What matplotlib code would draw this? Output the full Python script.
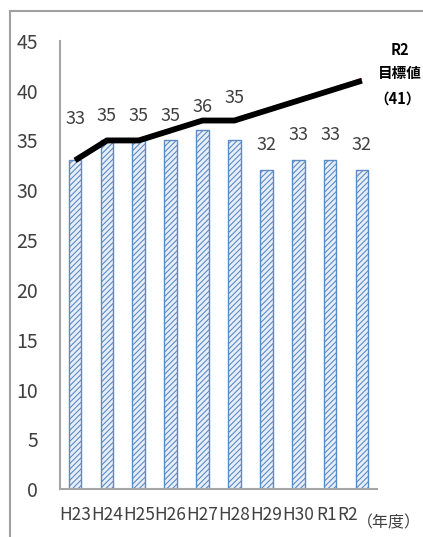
import matplotlib
matplotlib.use("Agg")
import matplotlib.pyplot as plt
import matplotlib.transforms as mtransforms
from matplotlib.patches import Rectangle

plt.rcParams['font.family'] = ['Noto Sans CJK JP', 'DejaVu Sans']
plt.rcParams['hatch.color'] = '#6f95c8'
plt.rcParams['hatch.linewidth'] = 0.8

# data
years = ["H23", "H24", "H25", "H26", "H27", "H28", "H29", "H30", "R1", "R2"]
actual = [33, 35, 35, 35, 36, 35, 32, 33, 33, 32]
target = [33, 35, 35, 36, 37, 37, 38, 39, 40, 41]

# how far above each bar its number sits (data units)
label_lift = [4.2, 2.5, 2.5, 2.5, 2.4, 4.3, 2.5, 2.5, 2.5, 2.5]

fig = plt.figure(figsize=(4.23, 5.37), dpi=100)
ax = fig.add_axes([0.142, 0.089, 0.749, 0.835])

xs = list(range(len(years)))
ax.bar(xs, actual, width=0.4, facecolor='#e8eff8', edgecolor='#5b8bc6',
       linewidth=1.0, hatch='//////', zorder=2)

for x, v, d in zip(xs, actual, label_lift):
    ax.text(x, v + d, str(v), ha='center', va='center', fontsize=13,
            color='#404040', zorder=4)

# target line: thin red edge under a thick black line
red_off = mtransforms.offset_copy(ax.transData, fig=fig, x=0, y=1.8, units='dots')
ax.plot(xs, target, color='#e03020', lw=1.0, transform=red_off, zorder=3,
        solid_capstyle='butt')
ax.plot(xs, target, color='black', lw=4.2, zorder=3, solid_capstyle='butt',
        solid_joinstyle='miter')

ax.set_xlim(-0.47, 9.47)
ax.set_ylim(0, 45)
ax.set_yticks(range(0, 46, 5))
ax.set_xticks(xs)
ax.set_xticklabels(years)
ax.tick_params(axis='both', length=0, labelcolor='#404040')
ax.tick_params(axis='y', labelsize=14, pad=16)
ax.tick_params(axis='x', labelsize=12.5, pad=12)

# nudge the last two tick labels left so the unit text fits beside them
for lab, dx in zip(ax.get_xticklabels()[-2:], [-0.03, -0.14]):
    lab.set_transform(lab.get_transform() + mtransforms.ScaledTranslation(dx, 0, fig.dpi_scale_trans))

for s in ['top', 'right']:
    ax.spines[s].set_visible(False)
for s in ['left', 'bottom']:
    ax.spines[s].set_color('#a6a6a6')
    ax.spines[s].set_linewidth(1.5)

fig.text(421 / 423, 1 - 523 / 537, '（年度）', fontsize=11.5, color='#404040',
         ha='right', va='center')

fig.text(400 / 423, 1 - 50 / 537, 'R2', fontsize=10.5, fontweight='bold',
         ha='center', va='center')
fig.text(400 / 423, 1 - 73 / 537, '目標値', fontsize=10.5, fontweight='bold',
         ha='center', va='center')
fig.text(398 / 423, 1 - 99 / 537, '（41）', fontsize=10.5, fontweight='bold',
         ha='center', va='center')

# frame around the picture
fig.add_artist(Rectangle((10 / 423, -0.1), 1.2, 1 - 11 / 537 + 0.1,
                         transform=fig.transFigure, fill=False,
                         edgecolor='#a0a0a0', linewidth=1.5))

fig.savefig("out.png", dpi=100)
